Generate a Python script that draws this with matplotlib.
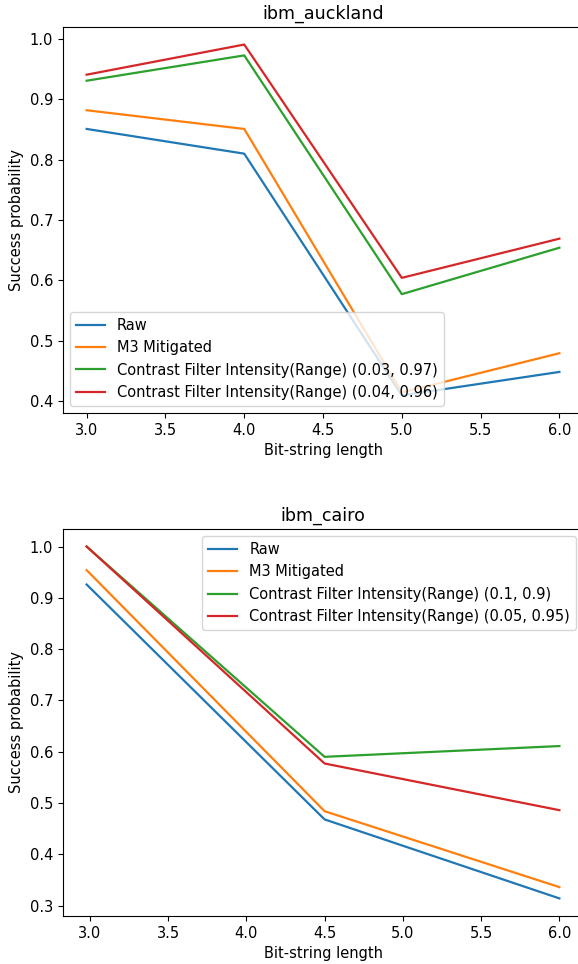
import numpy as np
from matplotlib import pyplot as plt

# ibm_auckland
auck_x = [3.0, 4.0, 5.0, 6.0]
auck_raw = [0.851, 0.810, 0.409, 0.448]
auck_m3 = [0.882, 0.851, 0.414, 0.479]
auck_cf1 = [0.931, 0.973, 0.577, 0.654]
auck_cf2 = [0.941, 0.991, 0.604, 0.669]
auck_labels = ['Raw', 'M3 Mitigated',
               'Contrast Filter Intensity(Range) (0.03, 0.97)',
               'Contrast Filter Intensity(Range) (0.04, 0.96)']

# ibm_cairo
cairo_x = [2.98, 4.5, 6.0]
cairo_raw = [0.926, 0.468, 0.314]
cairo_m3 = [0.954, 0.484, 0.336]
cairo_cf1 = [1.0, 0.590, 0.611]
cairo_cf2 = [1.0, 0.577, 0.486]
cairo_labels = ['Raw', 'M3 Mitigated',
                'Contrast Filter Intensity(Range) (0.1, 0.9)',
                'Contrast Filter Intensity(Range) (0.05, 0.95)']

# original looks rendered a touch larger than the defaults
plt.rcParams['font.size'] = 10.5
plt.rcParams['lines.linewidth'] = 1.6

fig = plt.figure(figsize=(5.78, 9.64), dpi=100)
# axes run past the right edge, like the cropped original
ax1 = fig.add_axes((0.109, 0.5716, 0.8997, 0.4004))
ax2 = fig.add_axes((0.109, 0.0498, 0.8997, 0.4015))


def draw(ax, x, series, labels, title, loc):
    for y, lab in zip(series, labels):
        ax.plot(x, y, label=lab)
    ax.set_title(title)
    ax.set_xlabel('Bit-string length')
    ax.set_ylabel('Success probability')
    ax.legend(loc=loc)


draw(ax1, auck_x, [auck_raw, auck_m3, auck_cf1, auck_cf2], auck_labels,
     'ibm_auckland', 'lower left')
draw(ax2, cairo_x, [cairo_raw, cairo_m3, cairo_cf1, cairo_cf2], cairo_labels,
     'ibm_cairo', 'upper right')

fig.savefig('out.png', dpi=100)
